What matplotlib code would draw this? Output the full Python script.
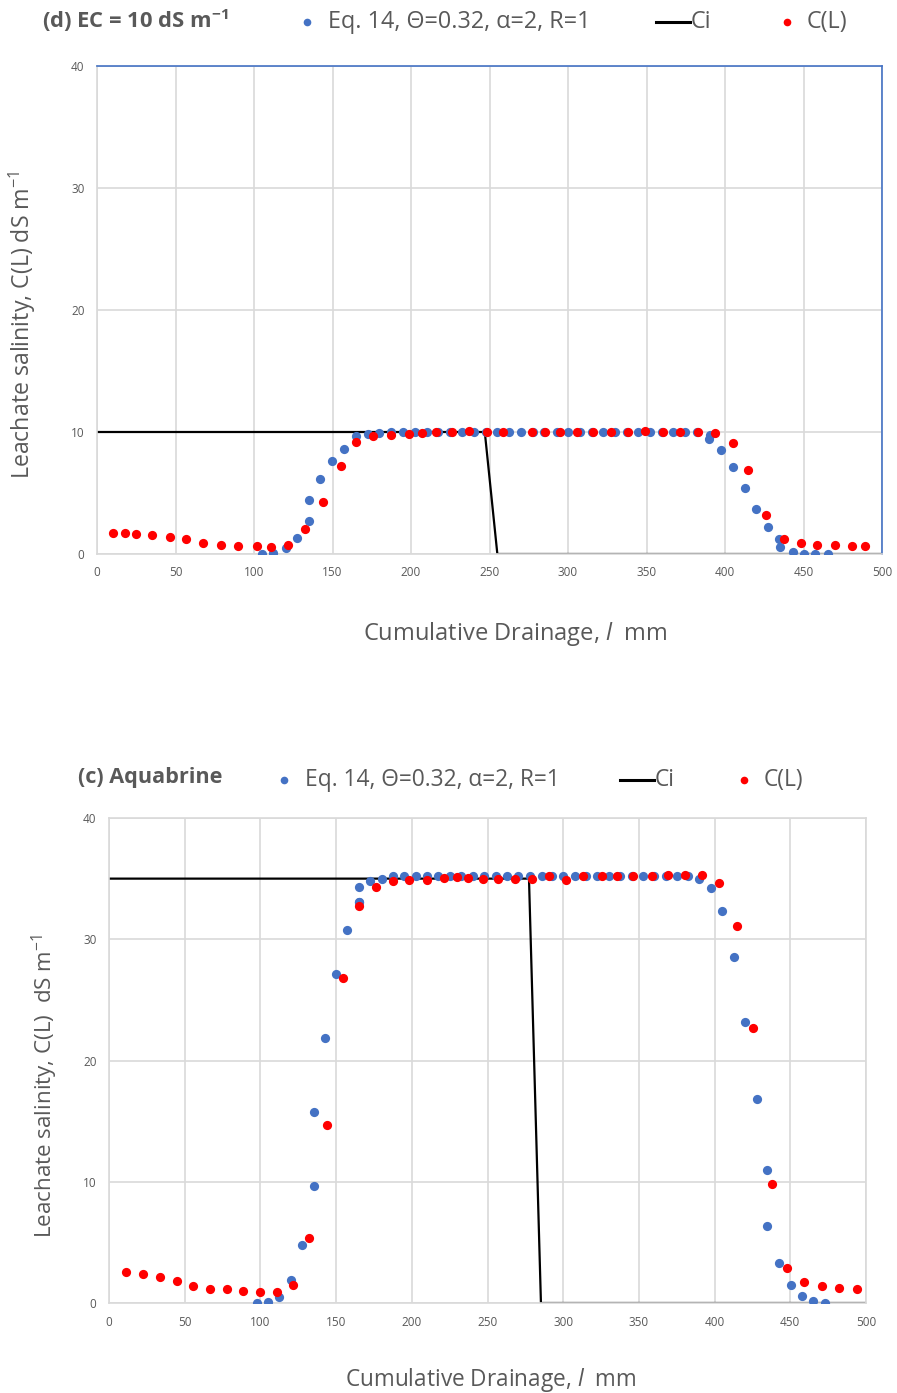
import matplotlib
matplotlib.use("Agg")
import matplotlib.pyplot as plt
from matplotlib.lines import Line2D

plt.rcParams['font.family'] = ['Open Sans', 'DejaVu Sans']
plt.rcParams['mathtext.fontset'] = 'custom'
plt.rcParams['mathtext.it'] = 'Open Sans:italic'
plt.rcParams['mathtext.rm'] = 'Open Sans'
plt.rcParams['mathtext.bf'] = 'Open Sans:bold'

# ---- panel (d): EC = 10 dS/m ----
d_eq_x = [105.1, 112.3, 120.4, 127.6, 135.0, 135.0, 142.0, 149.9, 157.5, 165.0, 172.4, 179.8,
          187.5, 195.1, 202.5, 210.0, 217.4, 225.0, 232.5, 240.0, 247.5, 255.0, 262.6, 270.0,
          277.5, 285.0, 292.8, 300.2, 307.6, 315.1, 322.5, 329.9, 337.3, 344.8, 352.2, 359.6,
          367.1, 374.5, 382.0, 390.0, 390.4, 397.3, 404.9, 412.7, 419.7, 427.6, 434.6, 435.0,
          443.1, 450.3, 457.3, 465.4]
d_eq_y = [0.0, 0.05, 0.46, 1.29, 2.70, 4.43, 6.15, 7.65, 8.61, 9.67, 9.81, 9.94,
          10.0, 10.0, 10.0, 10.0, 10.0, 10.0, 10.0, 10.0, 10.0, 10.0, 10.0, 10.0,
          10.0, 10.0, 10.0, 10.0, 10.0, 10.0, 10.0, 10.0, 10.0, 10.0, 10.0, 10.0,
          10.0, 10.0, 10.0, 9.40, 9.75, 8.52, 7.16, 5.44, 3.69, 2.24, 1.20, 0.60,
          0.19, 0.0, 0.0, 0.0]
d_cl_x = [10.4, 17.8, 24.8, 34.8, 46.5, 56.7, 67.7, 78.8, 89.6, 101.7, 110.8, 121.4,
          132.5, 143.7, 155.2, 165.0, 176.0, 187.0, 198.7, 207.2, 216.0, 226.0, 237.0, 248.6,
          258.4, 276.9, 285.4, 294.9, 305.5, 316.1, 327.2, 338.0, 349.2, 360.3, 371.3, 382.6,
          393.6, 404.9, 414.6, 426.1, 437.6, 448.2, 458.4, 469.9, 480.9, 489.2]
d_cl_y = [1.70, 1.70, 1.61, 1.56, 1.42, 1.20, 0.93, 0.74, 0.68, 0.68, 0.60, 0.74,
          2.02, 4.29, 7.21, 9.15, 9.67, 9.78, 9.84, 9.94, 10.0, 10.0, 10.05, 10.0,
          10.0, 10.0, 10.0, 9.97, 10.0, 10.0, 10.0, 10.0, 10.05, 10.0, 10.0, 10.0,
          9.95, 9.13, 6.89, 3.20, 1.20, 0.87, 0.74, 0.74, 0.68, 0.68]
d_ci_x = [0, 247, 255, 500]
d_ci_y = [10, 10, 0, 0]

# ---- panel (c): Aquabrine ----
c_eq_x = [97.5, 105.2, 112.5, 120.2, 127.5, 135.4, 135.4, 142.7, 149.9, 157.4, 165.4, 165.4,
          165.4, 172.4, 180.1, 187.8, 195.1, 202.6, 209.8, 217.5, 225.2, 232.5, 240.2, 247.7,
          255.4, 262.7, 270.1, 278.1, 285.8, 292.4, 300.1, 307.8, 315.1, 322.5, 330.3, 337.5,
          345.2, 352.5, 360.0, 367.7, 375.4, 382.6, 389.9, 397.4, 404.9, 412.8, 420.1, 427.8,
          434.8, 434.8, 442.7, 450.2, 457.9, 465.2, 472.9]
c_eq_y = [0.0, 0.08, 0.52, 1.90, 4.78, 9.65, 15.75, 21.88, 27.16, 30.76, 33.1, 33.1,
          34.3, 34.8, 35.0, 35.2, 35.2, 35.2, 35.2, 35.2, 35.2, 35.2, 35.2, 35.2,
          35.2, 35.2, 35.2, 35.2, 35.2, 35.2, 35.2, 35.2, 35.2, 35.2, 35.2, 35.2,
          35.2, 35.2, 35.2, 35.2, 35.2, 35.2, 34.95, 34.25, 32.33, 28.56, 23.15, 16.82,
          10.96, 6.38, 3.32, 1.48, 0.60, 0.19, 0.0]
c_cl_x = [11.2, 22.7, 33.7, 44.7, 55.7, 66.7, 77.7, 88.7, 99.7, 111.2, 121.8, 132.1,
          143.8, 154.3, 165.4, 176.4, 187.4, 198.4, 209.8, 221.3, 229.6, 236.9, 246.8, 256.7,
          268.2, 279.2, 290.6, 301.6, 313.3, 325.4, 335.7, 346.3, 358.4, 369.4, 380.4, 391.5,
          403.1, 414.6, 425.6, 437.7, 447.6, 459.3, 470.7, 482.4, 493.8]
c_cl_y = [2.58, 2.42, 2.14, 1.81, 1.43, 1.18, 1.13, 0.99, 0.93, 0.93, 1.51, 5.39,
          14.66, 26.83, 32.74, 34.3, 34.8, 34.9, 34.9, 35.05, 35.15, 35.05, 35.0, 34.95,
          34.95, 34.95, 35.2, 34.9, 35.2, 35.2, 35.2, 35.2, 35.2, 35.3, 35.3, 35.3,
          34.66, 31.1, 22.66, 9.79, 2.91, 1.76, 1.43, 1.21, 1.15]
c_ci_x = [0, 277.4, 285.3, 500]
c_ci_y = [35, 35, 0, 0]

xticks = [0, 50, 100, 150, 200, 250, 300, 350, 400, 450, 500]
yticks = [0, 10, 20, 30, 40]

BLUE = '#4472C4'
RED = '#FF0000'
GREY_TXT = '#595959'
GRID = '#D9D9D9'

W, H = 897, 1393
fig = plt.figure(figsize=(W/100, H/100), dpi=100)


def fx(px):
    return px / W


def fy(py):
    return 1 - py / H


ax1 = fig.add_axes([fx(97), fy(554), 785/W, 488/H])
ax2 = fig.add_axes([fx(109), fy(1303), 757/W, 485/H])


def draw(ax, eq_x, eq_y, cl_x, cl_y, ci_x, ci_y):
    ax.plot(ci_x, ci_y, color='black', lw=1.6, zorder=2)
    ax.scatter(eq_x, eq_y, s=44, color=BLUE, linewidths=0, zorder=3)
    ax.scatter(cl_x, cl_y, s=44, color=RED, linewidths=0, zorder=4)
    ax.set_xlim(0, 500)
    ax.set_ylim(0, 40)
    ax.set_xticks(xticks)
    ax.set_yticks(yticks)
    ax.grid(True, color=GRID, lw=1.2)
    ax.set_axisbelow(True)
    ax.tick_params(length=0, labelsize=8.5, labelcolor=GREY_TXT, pad=9)
    for s in ax.spines.values():
        s.set_color(GRID)
        s.set_linewidth(1.2)


draw(ax1, d_eq_x, d_eq_y, d_cl_x, d_cl_y, d_ci_x, d_ci_y)
draw(ax2, c_eq_x, c_eq_y, c_cl_x, c_cl_y, c_ci_x, c_ci_y)
ax1.spines['top'].set_color(BLUE)
ax1.spines['right'].set_color(BLUE)

# axis titles
xlab = r'Cumulative Drainage, $\mathit{l}$  mm'
fig.text(fx(515), fy(634), xlab, fontsize=17, color=GREY_TXT, ha='center', va='center')
fig.text(fx(491), fy(1380), xlab, fontsize=16.3, color=GREY_TXT, ha='center', va='center')
fig.text(fx(22), fy(325), 'Leachate salinity, C(L) dS m$^{-1}$', fontsize=16.7,
         color=GREY_TXT, rotation=90, ha='center', va='center')
fig.text(fx(45), fy(1086), 'Leachate salinity, C(L)  dS m$^{-1}$', fontsize=16.1,
         color=GREY_TXT, rotation=90, ha='center', va='center')

# panel titles
fig.text(fx(42), fy(21), r'(d) EC = 10 dS m$^{\mathbf{-1}}$', fontsize=15.8, fontweight='bold',
         color=GREY_TXT, va='center', ha='left')
fig.text(fx(78), fy(777), '(c) Aquabrine', fontsize=15.6, fontweight='bold',
         color=GREY_TXT, va='center', ha='left')

# legend rows above each panel
eq_lab = 'Eq. 14, \u0398=0.32, \u03b1=2, R=1'
for y, blue_x, ci_x0, red_x, fs in [(22, 307, 656, 787, 16.8), (780, 284, 620, 744, 16.4)]:
    fig.add_artist(Line2D([fx(blue_x)], [fy(y)], ls='none', marker='o', ms=5.5,
                          color=BLUE, mec='none'))
    fig.text(fx(blue_x + 21), fy(y), eq_lab, fontsize=fs, color=GREY_TXT, va='center')
    fig.add_artist(Line2D([fx(ci_x0), fx(ci_x0 + 34)], [fy(y), fy(y)], color='black', lw=2.2))
    fig.text(fx(ci_x0 + 35), fy(y), 'Ci', fontsize=fs, color=GREY_TXT, va='center')
    fig.add_artist(Line2D([fx(red_x)], [fy(y)], ls='none', marker='o', ms=5.5,
                          color=RED, mec='none'))
    fig.text(fx(red_x + 20), fy(y), 'C(L)', fontsize=fs, color=GREY_TXT, va='center')

fig.savefig('out.png', dpi=100)
